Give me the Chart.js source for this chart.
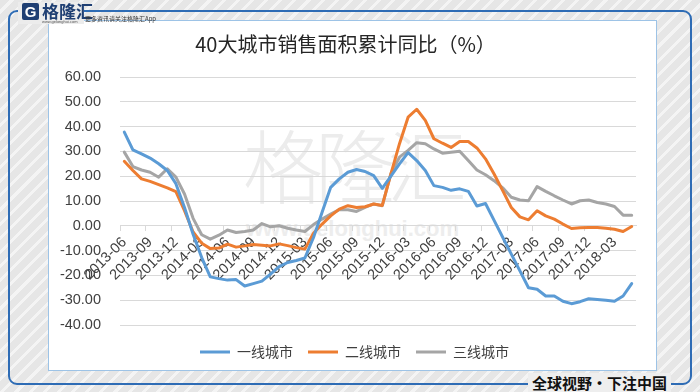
<!DOCTYPE html>
<html><head><meta charset="utf-8">
<script src="https://cdn.jsdelivr.net/npm/chart.js@4/dist/chart.umd.min.js"></script>
<style>
html,body{margin:0;padding:0;}
body{width:700px;height:392px;overflow:hidden;position:relative;
 background: repeating-linear-gradient(135deg, #e6e6e6 0px, #e6e6e6 7px, #f4f4f4 7px, #f4f4f4 10px);
 font-family:"Noto Sans CJK SC",sans-serif;}
#frame{position:absolute;left:8px;top:10px;width:680px;height:371px;border:2px solid #2E6CB5;border-radius:9px;}
#panel{position:absolute;left:48px;top:20px;width:607px;height:349px;background:#fff;border:1px solid #9DC3E6;}
#wm1{position:absolute;left:243px;top:122px;font-size:80px;font-weight:300;letter-spacing:-8px;color:#ececec;font-family:"Noto Sans CJK SC";line-height:1;}
#wm2{position:absolute;left:246px;top:218px;font-size:22px;font-weight:bold;color:#ededed;font-family:"Liberation Sans";line-height:1;}
#chart{position:absolute;left:49px;top:21px;}
#logo{position:absolute;left:18px;top:2px;height:22px;width:66px;background:#ececec;}
#logoG{position:absolute;left:22px;top:3px;width:17px;height:17px;background:#1F3F73;color:#fff;font:bold 15px "Liberation Sans";text-align:center;line-height:17px;border-radius:2px;}
#logoT{position:absolute;left:42px;top:1px;font:bold 17px "Noto Sans CJK SC";color:#1F3F73;line-height:20px;}
#logoU{position:absolute;left:42px;top:19px;font:4px "Liberation Sans";color:#555;}
#tag{position:absolute;left:85px;top:14px;font:6px "Noto Sans CJK SC";color:#333;}
#slogan{position:absolute;left:528px;top:373px;padding:0 4px;font:bold 15px "Noto Sans CJK SC";color:#111;line-height:20px;background:#eeeeee;}
</style></head>
<body>
<div id="frame"></div>
<div id="panel"></div>
<div id="wm1">格隆汇</div>
<div id="wm2">www.gelonghui.com</div>
<canvas id="chart" width="607" height="349"></canvas>
<div id="logo"></div>
<div id="logoG">G</div>
<div id="logoT">格隆汇</div>
<div id="logoU">www.gelonghui.com</div>
<div id="tag">更多资讯请关注格隆汇App</div>
<div id="slogan">全球视野・下注中国</div>
<script>
const categories = [
 '2013-06','2013-07','2013-08','2013-09','2013-10','2013-11','2013-12',
 '2014-01','2014-02','2014-03','2014-04','2014-05','2014-06','2014-07','2014-08','2014-09','2014-10','2014-11','2014-12',
 '2015-01','2015-02','2015-03','2015-04','2015-05','2015-06','2015-07','2015-08','2015-09','2015-10','2015-11','2015-12',
 '2016-01','2016-02','2016-03','2016-04','2016-05','2016-06','2016-07','2016-08','2016-09','2016-10','2016-11','2016-12',
 '2017-01','2017-02','2017-03','2017-04','2017-05','2017-06','2017-07','2017-08','2017-09','2017-10','2017-11','2017-12',
 '2018-01','2018-02','2018-03','2018-04','2018-05'
];
const seriesNames = ['一线城市','二线城市','三线城市'];
const tier1 = [37.8,30.6,29.0,27.3,25.0,22.3,17.0,7.4,-3.4,-12.8,
 -20.6,-21.3,-21.9,-21.7,-24.3,-23.3,-22.3,-19.5,-16.5,-14.8,
 -14.0,-13.0,-4.7,5.5,15.5,18.9,21.6,22.7,21.9,20.2,
 15.1,20.0,25.0,29.5,26.3,22.3,16.2,15.5,14.3,14.9,
 13.9,8.0,9.0,2.2,-4.6,-11.4,-18.2,-25.0,-25.6,-28.3,
 -28.3,-30.4,-31.4,-30.6,-29.4,-29.7,-30.0,-30.4,-28.3,-23.3];
const tier2 = [26.0,22.3,18.9,17.9,16.6,15.3,13.8,6.1,-2.5,-7.0,
 -9.2,-9.0,-7.4,-8.6,-8.1,-7.5,-7.8,-8.1,-7.3,-8.0,
 -8.8,-9.4,-3.0,0.7,4.0,6.7,8.1,7.4,7.7,8.8,
 8.2,20.9,33.1,43.8,47.0,42.5,35.1,33.3,31.6,34.0,
 34.0,31.4,27.0,20.9,14.2,7.4,3.6,2.4,6.1,4.0,
 2.7,0.7,-1.1,-0.8,-0.7,-0.7,-1.0,-1.4,-2.3,-0.3];
const tier3 = [29.7,23.9,22.5,21.6,19.6,23.0,19.6,12.8,3.0,-3.6,
 -5.4,-3.8,-1.7,-2.7,-2.3,-1.7,0.9,-0.4,0.0,-1.0,
 -1.7,-2.3,0.5,2.7,4.7,6.5,6.5,5.8,7.4,8.8,
 8.1,21.0,27.7,30.4,33.5,33.1,31.0,29.3,29.7,30.1,
 26.3,22.5,20.6,18.2,15.3,11.5,10.4,10.1,15.8,13.9,
 12.1,10.4,8.8,10.1,10.4,9.4,8.8,7.8,4.3,4.3];
const yMin = -40, yMax = 60, yStep = 10;
const colors = ['#5B9BD5','#ED7D31','#A5A5A5'];
const cjk = '"Noto Sans CJK SC", sans-serif';
const num = '"Liberation Sans", sans-serif';

const nudge = {
  id: 'nudge',
  afterLayout(chart) {
    const t = chart.titleBlock, l = chart.legend;
    if (t) { t.left += 3; t.right += 3; }
    if (l) { l.left += 12; l.right += 12; l.top += 5; l.bottom += 5; }
  }
};

new Chart(document.getElementById('chart'), {
  type: 'line',
  data: {
    labels: categories,
    datasets: [tier1, tier2, tier3].map((d, k) => ({
      label: seriesNames[k], data: d, borderColor: colors[k], backgroundColor: colors[k],
      borderWidth: 3, pointRadius: 0, pointHoverRadius: 0, tension: 0, fill: false,
      borderJoinStyle: 'round', borderCapStyle: 'round'
    }))
  },
  plugins: [nudge],
  options: {
    responsive: false, animation: false, devicePixelRatio: 1,
    layout: { padding: { left: 0, right: 20, top: 0, bottom: 6 } },
    plugins: {
      title: { display: true, text: '40大城市销售面积累计同比（%）', color: '#262626',
        font: { family: cjk, size: 20, weight: 'normal' }, padding: { top: 11, bottom: 21 } },
      legend: { position: 'bottom', labels: { usePointStyle: true, pointStyle: 'line', pointStyleWidth: 30,
        color: '#404040', font: { family: cjk, size: 14 }, padding: 15 } },
      tooltip: { enabled: false }
    },
    scales: {
      x: {
        position: { y: 0 }, offset: true,
        grid: { offset: true, drawOnChartArea: false, drawTicks: true, tickLength: 5,
          color: c => (c.index % 3 === 0 ? '#d9d9d9' : 'rgba(0,0,0,0)') },
        border: { display: true, color: '#d9d9d9' },
        ticks: { autoSkip: false, minRotation: 45, maxRotation: 45, padding: 3, color: '#404040',
          font: { family: num, size: 14.5 },
          callback: (v, i) => (i % 3 === 0 ? categories[i] : '') },
        afterFit: s => { s.height = 0; }
      },
      y: {
        min: yMin, max: yMax,
        ticks: { stepSize: yStep, padding: 19, color: '#404040', font: { family: num, size: 14.5 },
          callback: v => Number(v).toFixed(2) },
        grid: { color: '#d9d9d9', drawTicks: false },
        border: { display: false },
        afterFit: s => { s.width = 71; }
      }
    }
  }
});
</script>
</body></html>
